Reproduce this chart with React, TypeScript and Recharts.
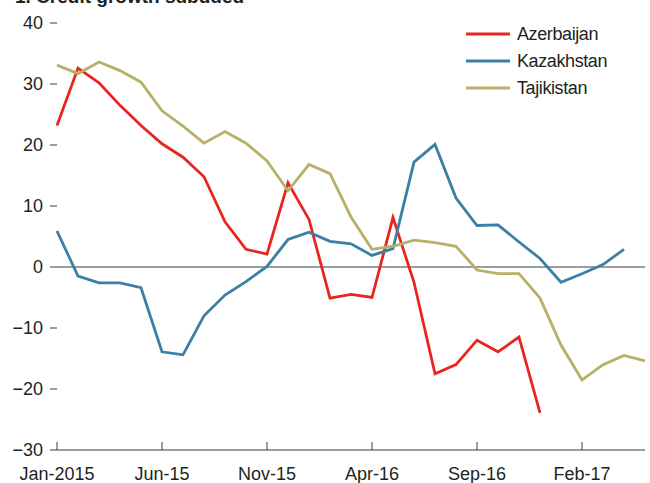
import React from "react";
import { LineChart, Line, XAxis, YAxis, ReferenceLine, Legend } from "recharts";

const months = [
  "Jan-2015", "Feb-15", "Mar-15", "Apr-15", "May-15", "Jun-15", "Jul-15", "Aug-15", "Sep-15", "Oct-15",
  "Nov-15", "Dec-15", "Jan-16", "Feb-16", "Mar-16", "Apr-16", "May-16", "Jun-16", "Jul-16", "Aug-16",
  "Sep-16", "Oct-16", "Nov-16", "Dec-16", "Jan-17", "Feb-17", "Mar-17", "Apr-17", "May-17",
];

const azerbaijan: (number | null)[] = [
  23.2, 32.6, 30.2, 26.5, 23.2, 20.2, 18.0, 14.8, 7.4, 2.9, 2.1, 13.8, 7.8, -5.1, -4.5, -5.0, 8.1, -2.5,
  -17.5, -16.0, -12.0, -13.9, -11.5, -23.9,
];

const kazakhstan: (number | null)[] = [
  5.9, -1.5, -2.6, -2.6, -3.4, -13.9, -14.4, -8.0, -4.6, -2.4, 0.1, 4.5, 5.7, 4.2, 3.8, 1.9, 3.0, 17.2,
  20.1, 11.3, 6.8, 6.9, 4.1, 1.4, -2.5, -1.1, 0.4, 2.9,
];

const tajikistan: (number | null)[] = [
  33.1, 31.7, 33.6, 32.2, 30.3, 25.6, 23.1, 20.3, 22.2, 20.3, 17.4, 12.5, 16.8, 15.3, 8.2, 2.9, 3.4, 4.4,
  4.0, 3.4, -0.5, -1.1, -1.1, -5.1, -12.8, -18.5, -16.0, -14.5, -15.4,
];

const yTicks = [-30, -20, -10, 0, 10, 20, 30, 40];

const data = months.map((m, i) => ({
  month: m,
  Azerbaijan: azerbaijan[i] ?? null,
  Kazakhstan: kazakhstan[i] ?? null,
  Tajikistan: tajikistan[i] ?? null,
}));

const FONT = '"Liberation Sans", Arial, Helvetica, sans-serif';
const TEXT = "#231f20";
const AXIS = "#3a3a3a";

const fmt = (v: number) => (v < 0 ? "\u2212" + Math.abs(v) : String(v));

const XTick = (props: any) => {
  const { x, y, payload } = props;
  return (
    <g>
      <line x1={x} x2={x} y1={y - 8} y2={y} stroke={AXIS} strokeWidth={1} />
      <text x={x} y={y + 30} textAnchor="middle" fontSize={18} fill={TEXT} fontFamily={FONT}>
        {payload.value}
      </text>
    </g>
  );
};

const LegendContent = (props: any) => {
  const { payload } = props;
  return (
    <div style={{ fontFamily: FONT }}>
      {(payload || []).map((e: any) => (
        <div key={e.value} style={{ display: "flex", alignItems: "center", height: 27 }}>
          <svg width={44} height={6} style={{ display: "block" }}>
            <line x1={0} x2={44} y1={3} y2={3} stroke={e.color} strokeWidth={2.8} />
          </svg>
          <span style={{ marginLeft: 7, fontSize: 18, color: TEXT, letterSpacing: -0.4, lineHeight: "27px" }}>
            {e.value}
          </span>
        </div>
      ))}
    </div>
  );
};

export default function App() {
  return (
    <div style={{ position: "absolute", left: 0, top: 0, width: 650, height: 483, overflow: "hidden", background: "#fff" }}>
      <div
        style={{
          position: "absolute",
          left: 15,
          top: -13,
          fontFamily: FONT,
          fontWeight: "bold",
          fontSize: 19,
          lineHeight: "19px",
          color: TEXT,
          whiteSpace: "nowrap",
        }}
      >
        1. Credit growth subdued
      </div>
      <LineChart
        width={650}
        height={483}
        data={data}
        margin={{ top: 23, right: 0, bottom: 0, left: 0 }}
        style={{ position: "absolute", left: 0, top: 0, fontFamily: FONT }}
      >
        <XAxis
          dataKey="month"
          interval={4}
          height={33}
          tickSize={0}
          tickMargin={0}
          tickLine={false}
          axisLine={{ stroke: AXIS, strokeWidth: 1 }}
          tick={<XTick />}
        />
        <YAxis
          yAxisId="left"
          domain={[-30, 40]}
          ticks={yTicks}
          width={57}
          axisLine={false}
          tickSize={7}
          tickMargin={7}
          tickLine={{ stroke: AXIS, strokeWidth: 1 }}
          tickFormatter={fmt}
          tick={{ fontSize: 18, fill: TEXT, fontFamily: FONT }}
        />
        <YAxis
          yAxisId="right"
          orientation="right"
          domain={[-30, 40]}
          ticks={yTicks}
          width={5}
          axisLine={false}
          tickSize={7}
          tickMargin={0}
          tickLine={{ stroke: AXIS, strokeWidth: 1 }}
          tickFormatter={() => ""}
        />
        <ReferenceLine yAxisId="left" y={0} stroke={AXIS} strokeWidth={1} />
        <Legend
          layout="vertical"
          align="center"
          verticalAlign="middle"
          content={<LegendContent />}
          wrapperStyle={{ left: 466, top: 20.5, width: "auto", height: "auto" }}
        />
        <Line yAxisId="left" type="linear" dataKey="Azerbaijan" stroke="#e8251f" strokeWidth={2.8} dot={false} isAnimationActive={false} connectNulls={false} />
        <Line yAxisId="left" type="linear" dataKey="Kazakhstan" stroke="#3b7fa5" strokeWidth={2.8} dot={false} isAnimationActive={false} connectNulls={false} />
        <Line yAxisId="left" type="linear" dataKey="Tajikistan" stroke="#b8b066" strokeWidth={2.8} dot={false} isAnimationActive={false} connectNulls={false} />
      </LineChart>
    </div>
  );
}
